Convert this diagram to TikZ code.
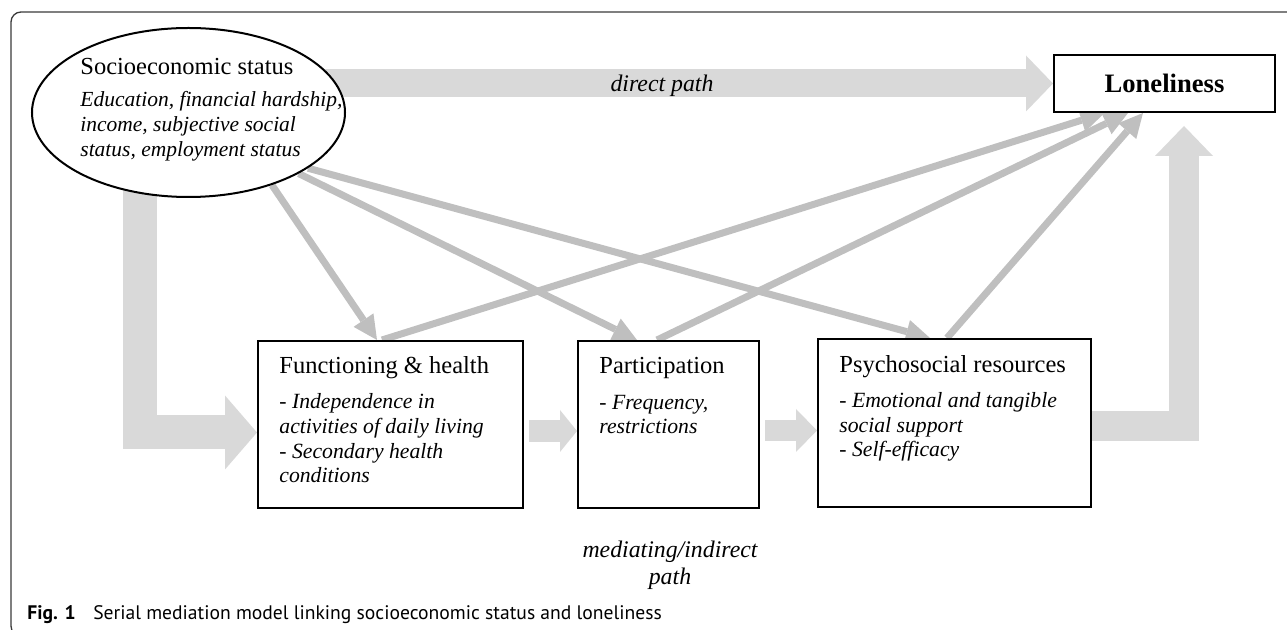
\documentclass[tikz,border=0pt]{standalone}
\usepackage{fontspec}
\setmainfont{Liberation Serif}
\newfontfamily\captionfont{PT Sans}
\usetikzlibrary{arrows.meta,shapes.geometric,positioning,backgrounds}

\definecolor{blockgray}{HTML}{D9D9D9}
\definecolor{linkgray}{HTML}{BFBFBF}
\definecolor{framegray}{HTML}{3A3A3A}

\tikzset{
  stage/.style={draw, line width=1pt, fill=white, inner sep=0pt},
  heading/.style={anchor=base west, inner sep=0pt, font=\fontsize{12.25}{14}\selectfont},
  items/.style={anchor=base west, inner sep=0pt, align=left, font=\fontsize{10.85}{12.4}\selectfont\itshape},
  tag/.style={inner sep=0pt, align=center, font=\fontsize{11.9}{13.5}\selectfont\itshape},
  link/.style={draw=linkgray, line width=3.5pt, -{Triangle[length=12pt,width=12pt,line width=0pt]}},
  flow/.style={draw=blockgray, line join=miter},
}

\begin{document}
\begin{tikzpicture}[x=0.5pt,y=-0.5pt]
  \useasboundingbox (0,0) rectangle (1287,630);
  \draw[framegray, line width=0.65pt, rounded corners=5pt] (1300,636) -- (11,636) -- (11,12) -- (1300,12);

  % outcome, exposure and the three mediators
  \node[stage, minimum width=110.5pt, minimum height=28.5pt, font=\fontsize{13.3}{16}\selectfont\bfseries] (lonely) at (1164.5,83.5) {Loneliness};
  \node[ellipse, draw, line width=1pt, fill=white, minimum width=156.5pt, minimum height=84.5pt, inner sep=0pt] (ses) at (188.5,112.5) {};
  \node[stage, minimum width=132.5pt, minimum height=83.5pt] (func) at (390.5,424.5) {};
  \node[stage, minimum width=90.5pt, minimum height=83.5pt] (part) at (668.5,424.5) {};
  \node[stage, minimum width=136.5pt, minimum height=84pt] (psych) at (954.5,423) {};

  % item lists sit on the baseline of their last line
  \node[heading] (sestitle) at (80,75) {Socioeconomic status};
  \node[items, font=\fontsize{10.75}{12.5}\selectfont\itshape] (sesitems) at (80,157) {Education, financial hardship,\\income, subjective social\\status, employment status};
  \node[heading] (functitle) at (279,374) {Functioning \& health};
  \node[items] (funcitems) at (279,483) {- Independence in\\activities of daily living\\- Secondary health\\conditions};
  \node[heading] (parttitle) at (599,374) {Participation};
  \node[items] (partitems) at (599,434) {- Frequency,\\restrictions};
  \node[heading] (psychtitle) at (839,373) {Psychosocial resources};
  \node[items] (psychitems) at (839,457) {- Emotional and tangible\\social support\\- Self-efficacy};

  \node[tag, anchor=base] (direct) at (662,92) {direct path};
  \node[tag, anchor=base] (indirect) at (670,585) {mediating/indirect\\path};

  \node[anchor=base west, inner sep=0pt, font=\captionfont\fontsize{9.8}{11}\selectfont] (caption) at (27,620) {\textbf{Fig. 1}\hspace{0.9em}Serial mediation model linking socioeconomic status and loneliness};

  \begin{scope}[on background layer]
    % broad paths
    \draw[flow, line width=14pt, -{Triangle[length=13.5pt,width=28pt,line width=0pt]}] (ses.center |- lonely.west) -- (lonely.west);
    \draw[flow, line width=17pt, -{Triangle[length=16pt,width=37pt,line width=0pt]}] ([xshift=-24.25pt]ses.center) |- ([yshift=-4pt]func.west);
    \draw[flow, line width=11pt, -{Triangle[length=8.5pt,width=21pt,line width=0pt]}, shorten <=2.5pt] ([yshift=-3.25pt]func.east) -- ([yshift=-3.25pt]part.west);
    \draw[flow, line width=10.5pt, -{Triangle[length=10.5pt,width=21.5pt,line width=0pt]}, shorten <=2.5pt] ([yshift=-3pt]part.east) -- ([yshift=-3.75pt]psych.west);
    \draw[flow, line width=15pt, -{Triangle[length=15pt,width=29pt,line width=0pt]}] ([yshift=-1.5pt]psych.east) -| ([xshift=9.75pt,yshift=-6.5pt]lonely.south);

    % single effects
    \draw[link] (ses.-41) -- ([xshift=-6.75pt]func.north);
    \draw[link] (ses.-29) -- ([xshift=-15.75pt]part.north);
    \draw[link] (ses.-25) -- ([xshift=-12.25pt]psych.north);
    \draw[link] ([xshift=-4.25pt]func.north) -- ([xshift=-30pt]lonely.south);
    \draw[link] ([xshift=-5.75pt]part.north) -- ([xshift=-18.25pt]lonely.south);
    \draw[link] ([xshift=-3.75pt]psych.north) -- ([xshift=-10.75pt]lonely.south);
  \end{scope}
\end{tikzpicture}
\end{document}
